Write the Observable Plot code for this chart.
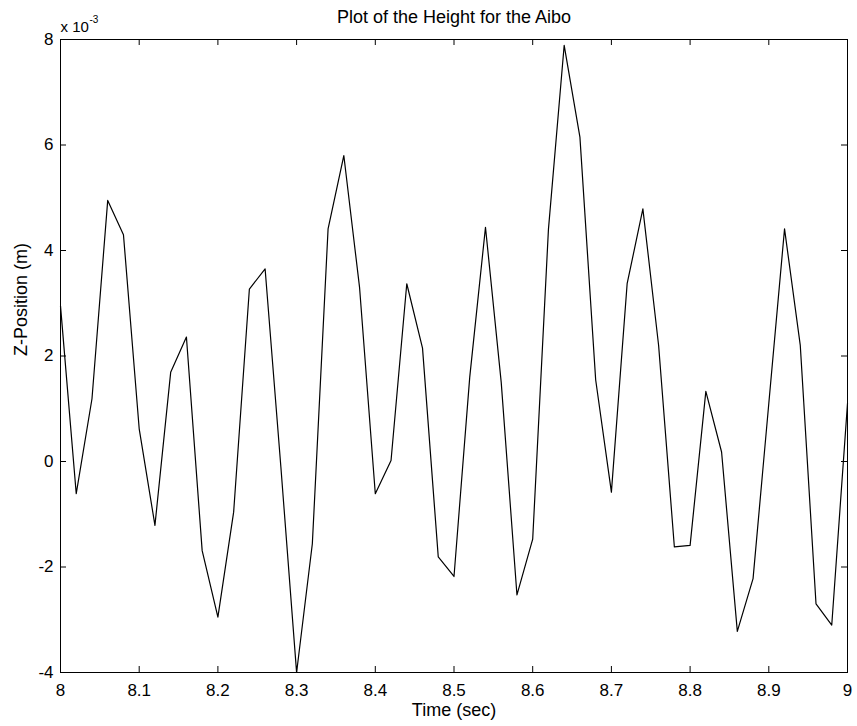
<!DOCTYPE html>
<html><head><meta charset="utf-8">
<script src="https://cdn.jsdelivr.net/npm/d3@7"></script>
<script src="https://cdn.jsdelivr.net/npm/@observablehq/plot@0.6"></script>
<style>body{margin:0;background:#fff} svg{display:block}</style>
</head><body><div id="chart"></div>
<script>
// Time (sec)
const times = [8.00, 8.02, 8.04, 8.06, 8.08, 8.10, 8.12, 8.14, 8.16, 8.18,
               8.20, 8.22, 8.24, 8.26, 8.28, 8.30, 8.32, 8.34, 8.36, 8.38,
               8.40, 8.42, 8.44, 8.46, 8.48, 8.50, 8.52, 8.54, 8.56, 8.58,
               8.60, 8.62, 8.64, 8.66, 8.68, 8.70, 8.72, 8.74, 8.76, 8.78,
               8.80, 8.82, 8.84, 8.86, 8.88, 8.90, 8.92, 8.94, 8.96, 8.98, 9.00];
// Z-Position (x 10^-3 m)
const heights = [2.95, -0.61, 1.19, 4.95, 4.30, 0.62, -1.21, 1.69, 2.36, -1.69,
                 -2.95, -0.96, 3.27, 3.65, -0.10, -4.00, -1.56, 4.41, 5.80, 3.30,
                 -0.61, 0.02, 3.37, 2.15, -1.81, -2.18, 1.60, 4.44, 1.50, -2.53,
                 -1.47, 4.40, 7.89, 6.15, 1.55, -0.58, 3.37, 4.79, 2.20, -1.62,
                 -1.59, 1.33, 0.18, -3.22, -2.22, 1.10, 4.41, 2.20, -2.70, -3.10, 1.10];
const xTicks = [8, 8.1, 8.2, 8.3, 8.4, 8.5, 8.6, 8.7, 8.8, 8.9, 9];
const yTicks = [-4, -2, 0, 2, 4, 6, 8];
const title = "Plot of the Height for the Aibo";
const xLabel = "Time (sec)";
const yLabel = "Z-Position (m)";

const W = 857, H = 726, mL = 60, mR = 10, mT = 39, mB = 54;
const innerW = W - mL - mR, innerH = H - mT - mB;
const tickLen = 6;
const font = "'Liberation Sans', Arial, Helvetica, sans-serif";
const data = times.map((t, i) => ({t, z: heights[i]}));

const chart = Plot.plot({
  width: W, height: H,
  marginLeft: mL, marginRight: mR, marginTop: mT, marginBottom: mB,
  style: {fontFamily: font, fontSize: "17px", color: "#000", background: "#fff", overflow: "visible"},
  x: {domain: [8, 9], label: null},
  y: {domain: [-4, 8], label: null},
  marks: [
    Plot.line(data, {x: "t", y: "z", stroke: "#000", strokeWidth: 1.2}),
    Plot.frame({stroke: "#000", strokeWidth: 1}),
    Plot.tickX(xTicks, {x: d => d, insetTop: innerH - tickLen, stroke: "#000"}),
    Plot.tickX(xTicks, {x: d => d, insetBottom: innerH - tickLen, stroke: "#000"}),
    Plot.tickY(yTicks, {y: d => d, insetRight: innerW - tickLen, stroke: "#000"}),
    Plot.tickY(yTicks, {y: d => d, insetLeft: innerW - tickLen, stroke: "#000"}),
    Plot.axisX({ticks: xTicks, tickSize: 0, tickPadding: 11, fontSize: 17, tickFormat: d => String(d), label: null}),
    Plot.axisY({ticks: yTicks, tickSize: 0, tickPadding: 7, fontSize: 17, tickFormat: d => String(d), label: null}),
    Plot.text([title], {frameAnchor: "top", dy: -22, lineAnchor: "middle", fontSize: 18}),
    Plot.text([xLabel], {frameAnchor: "bottom", dy: 38, lineAnchor: "middle", fontSize: 18}),
    Plot.text([yLabel], {frameAnchor: "left", dx: -39, rotate: -90, lineAnchor: "middle", fontSize: 18}),
    Plot.text(["x 10"], {frameAnchor: "top-left", textAnchor: "start", lineAnchor: "bottom", dy: -8, fontSize: 15}),
    Plot.text(["-3"], {frameAnchor: "top-left", textAnchor: "start", lineAnchor: "bottom", dx: 29, dy: -17, fontSize: 10})
  ]
});
document.getElementById("chart").appendChild(chart);
</script>
</body></html>
